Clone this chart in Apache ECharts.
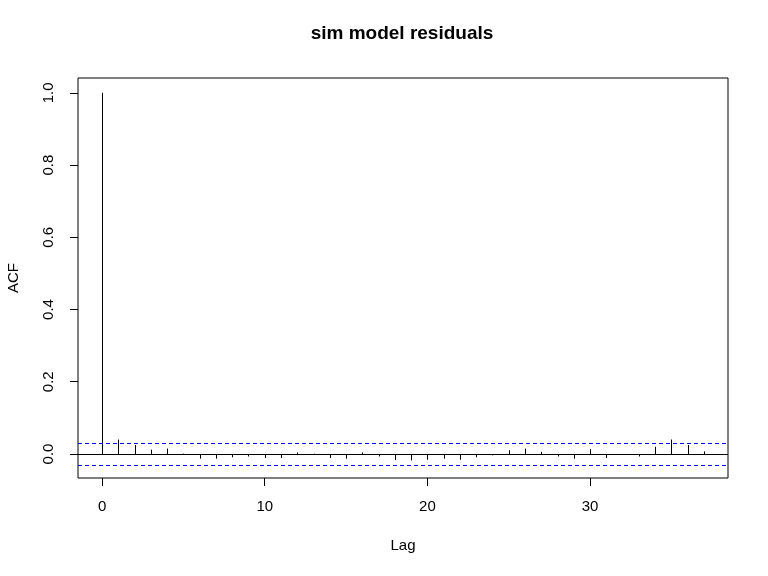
<!DOCTYPE html>
<html>
<head>
<meta charset="utf-8">
<script src="https://cdn.jsdelivr.net/npm/echarts@6/dist/echarts.min.js"></script>
<style>
html,body{margin:0;padding:0;background:#fff;}
#main{width:768px;height:576px;}
</style>
</head>
<body>
<div id="main"></div>
<script>
var titleText = 'sim model residuals';
var xName = 'Lag';
var yName = 'ACF';
var lags = [0,1,2,3,4,5,6,7,8,9,10,11,12,13,14,15,16,17,18,19,20,21,22,23,24,25,26,27,28,29,30,31,32,33,34,35,36,37];
var acfValues = [1.000,0.040,0.025,0.012,0.015,0.001,-0.013,-0.013,-0.009,-0.007,-0.011,-0.011,0.004,0.001,-0.011,-0.013,0.004,-0.007,-0.017,-0.018,-0.016,-0.013,-0.016,-0.009,-0.004,0.010,0.015,0.006,-0.007,-0.013,0.013,-0.011,-0.001,-0.007,0.020,0.040,0.025,0.007];
var ciBound = 0.0255;
var xTicks = [0,10,20,30];
var yTicks = [0,0.2,0.4,0.6,0.8,1.0];

var xMin = lags[0], xMax = lags[lags.length-1];
var xPad = (xMax - xMin) * 0.04;
var yLo = Math.min(-ciBound, Math.min.apply(null, acfValues));
var yHi = Math.max(ciBound, Math.max.apply(null, acfValues));
var yPad = (yHi - yLo) * 0.04;

var data = lags.map(function(l, i){ return [l, acfValues[i]]; });
var font = 'Liberation Sans, Arial, sans-serif';

var chart = echarts.init(document.getElementById('main'), null, {renderer:'canvas'});
chart.setOption({
  backgroundColor:'#ffffff',
  animation:false,
  graphic:[{
    type:'text',
    x:402,
    y:34,
    style:{text:titleText,align:'center',verticalAlign:'middle',fontFamily:font,fontSize:19,fontWeight:'bold',fill:'#000'}
  }],
  grid:{left:78,right:40,top:78,bottom:98,show:true,borderColor:'#000',borderWidth:1,backgroundColor:'transparent',
    containLabel:false,outerBoundsMode:'none'},
  xAxis:{
    type:'value',
    position:'bottom',
    min:xMin - xPad,
    max:xMax + xPad,
    name:xName,
    nameLocation:'middle',
    nameGap:60,
    nameTextStyle:{fontFamily:font,fontSize:15,color:'#000'},
    axisLine:{show:false,onZero:false},
    splitLine:{show:false},
    axisTick:{show:true,inside:false,length:8,lineStyle:{color:'#000',width:1},customValues:xTicks},
    axisLabel:{show:true,customValues:xTicks,margin:21,fontFamily:font,fontSize:15,color:'#000'}
  },
  yAxis:{
    type:'value',
    position:'left',
    min:yLo - yPad,
    max:yHi + yPad,
    name:yName,
    nameLocation:'middle',
    nameGap:57,
    nameRotate:90,
    nameTextStyle:{fontFamily:font,fontSize:15,color:'#000'},
    axisLine:{show:false,onZero:false},
    splitLine:{show:false},
    axisTick:{show:true,inside:false,length:8,lineStyle:{color:'#000',width:1},customValues:yTicks},
    axisLabel:{show:true,customValues:yTicks,rotate:90,margin:22,fontFamily:font,fontSize:15,color:'#000',
      formatter:function(v){return v.toFixed(1);}}
  },
  series:[
    {
      type:'custom',
      data:data,
      renderItem:function(params, api){
        var p0 = api.coord([api.value(0), 0]);
        var p1 = api.coord([api.value(0), api.value(1)]);
        return {type:'line',shape:{x1:Math.round(p0[0])+0.5,y1:p0[1],x2:Math.round(p1[0])+0.5,y2:p1[1]},
          style:{stroke:'#000',lineWidth:1}};
      },
      markLine:{
        silent:true,
        symbol:'none',
        label:{show:false},
        data:[
          {yAxis:0,lineStyle:{color:'#000',type:'solid',width:1}},
          {yAxis:ciBound,lineStyle:{color:'#0000ff',type:[4,3],width:1}},
          {yAxis:-ciBound,lineStyle:{color:'#0000ff',type:[4,3],width:1}}
        ]
      }
    }
  ]
});
</script>
</body>
</html>
